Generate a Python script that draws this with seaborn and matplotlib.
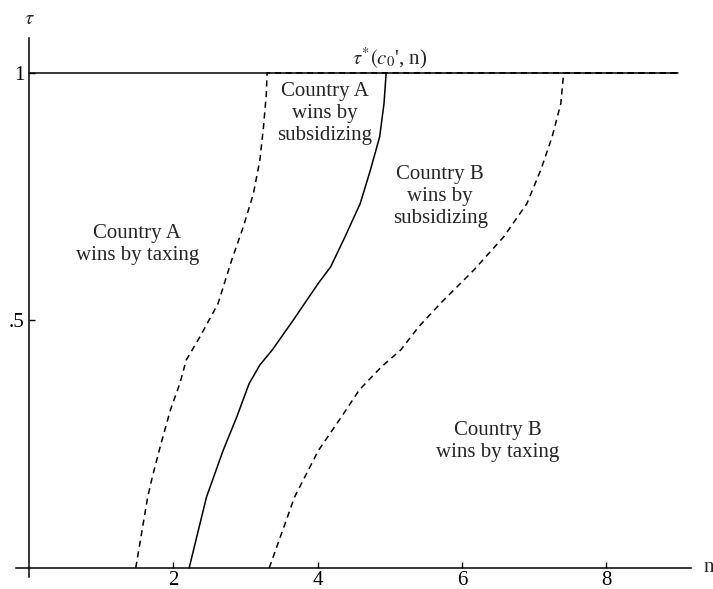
import matplotlib
matplotlib.use("Agg")
import matplotlib.pyplot as plt
import seaborn as sns

sns.set_theme(style="white")
plt.rcParams["font.family"] = ["Liberation Serif", "DejaVu Serif"]
plt.rcParams["mathtext.fontset"] = "stix"

# ===============================
# DATA
# ===============================
# left dashed boundary
n_left = [1.48, 1.645, 1.71, 1.83, 1.96, 2.09, 2.18, 2.37, 2.62, 2.81, 2.97, 3.11, 3.20, 3.25, 3.29, 3.30, 9.0]
tau_left = [0.0, 0.143, 0.184, 0.251, 0.319, 0.372, 0.42, 0.467, 0.534, 0.622, 0.689, 0.756, 0.824, 0.891, 0.958, 1.0, 1.0]

# solid boundary tau*(c0', n)
n_mid = [2.22, 2.46, 2.69, 2.88, 3.05, 3.20, 3.37, 3.66, 4.01, 4.18, 4.38, 4.59, 4.73, 4.86, 4.92, 4.95]
tau_mid = [0.0, 0.143, 0.237, 0.305, 0.372, 0.41, 0.44, 0.5, 0.575, 0.608, 0.669, 0.736, 0.803, 0.871, 0.938, 1.0]

# right dashed boundary
n_right = [3.33, 3.68, 4.01, 4.33, 4.58, 4.89, 5.15, 5.40, 5.70, 6.16, 6.58, 6.90, 7.09, 7.25, 7.37, 7.41, 9.0]
tau_right = [0.0, 0.143, 0.237, 0.305, 0.36, 0.407, 0.44, 0.487, 0.534, 0.601, 0.669, 0.736, 0.803, 0.871, 0.938, 1.0, 1.0]

# upper bound tau = 1
n_top = [0.0, 9.0]
tau_top = [1.0, 1.0]

x_ticks = [2, 4, 6, 8]
y_ticks = [0.5, 1.0]
y_tick_labels = [".5", "1"]

regions = [
    ("Country A\nwins by taxing", 1.50, 0.654),
    ("Country A\nwins by\nsubsidizing", 4.10, 0.918),
    ("Country B\nwins by\nsubsidizing", 5.70, 0.75),
    ("Country B\nwins by taxing", 6.50, 0.256),
]

# ===============================
# PLOT
# ===============================
fig = plt.figure(figsize=(7.13, 5.89), dpi=100)
ax = fig.add_axes([0.0224, 0.0199, 0.9463, 0.9151])

dash = (0, (4, 3))
sns.lineplot(x=n_top, y=tau_top, sort=False, color="black", lw=1.1, ax=ax)
sns.lineplot(x=n_mid, y=tau_mid, sort=False, color="black", lw=1.1, ax=ax)
sns.lineplot(x=n_left, y=tau_left, sort=False, color="black", lw=1.1, linestyle=dash, ax=ax)
sns.lineplot(x=n_right, y=tau_right, sort=False, color="black", lw=1.1, linestyle=dash, ax=ax)

for txt, xx, yy in regions:
    ax.text(xx, yy, txt, ha="center", va="center", fontsize=15)

ax.text(5.0, 1.03, r"$\tau^{*}(c_{0}$', n)", ha="center", va="center", fontsize=15)
ax.text(9.42, 0.0, "n", ha="center", va="center", fontsize=15, clip_on=False)
ax.text(0.0, 1.108, r"$\tau$", ha="center", va="center", fontsize=15, clip_on=False)

ax.set_xlim(-0.18, 9.17)
ax.set_ylim(-0.019, 1.07)
ax.spines["left"].set_position(("data", 0))
ax.spines["bottom"].set_position(("data", 0))
for s in ["top", "right"]:
    ax.spines[s].set_visible(False)
for s in ["left", "bottom"]:
    ax.spines[s].set_color("black")
    ax.spines[s].set_linewidth(1.1)

ax.set_xticks(x_ticks)
ax.set_xticklabels([str(t) for t in x_ticks])
ax.set_yticks(y_ticks)
ax.set_yticklabels(y_tick_labels)
ax.tick_params(axis="both", direction="in", length=4.5, width=1, color="black",
               labelsize=15, labelcolor="black")
ax.tick_params(axis="x", pad=2.5)
ax.tick_params(axis="y", pad=3)
ax.tick_params(axis="both", left=True, bottom=True)
ax.set_xlabel("")
ax.set_ylabel("")
ax.grid(False)

fig.savefig("out.png", dpi=100)
